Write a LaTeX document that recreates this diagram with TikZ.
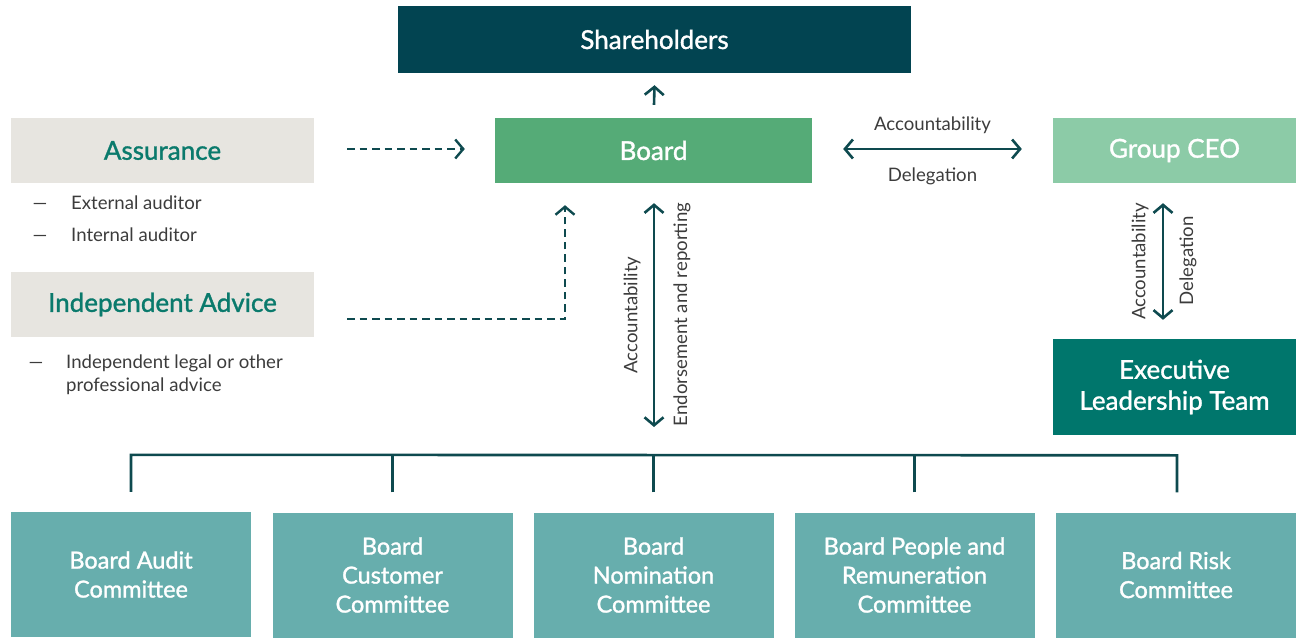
\documentclass[tikz,border=0pt]{standalone}
\usepackage{fontspec}
\setmainfont{Lato}
\newfontfamily\medfont{Lato}[FakeBold=1.3]
\usetikzlibrary{arrows.meta,calc}
\definecolor{shc}{HTML}{024451}
\definecolor{brd}{HTML}{55AB77}
\definecolor{ceoc}{HTML}{8CCBA7}
\definecolor{eltc}{HTML}{00766C}
\definecolor{comc}{HTML}{67AEAD}
\definecolor{gryc}{HTML}{E7E5E0}
\definecolor{tealtxt}{HTML}{0A7A6C}
\definecolor{arrc}{HTML}{0E4A4F}
\definecolor{lblc}{HTML}{3C3C3C}
\newcommand{\bxfont}{\medfont\fontsize{26}{31}\selectfont}
\newcommand{\cmfont}{\medfont\fontsize{23.5}{29}\selectfont}
\newcommand{\lbfont}{\fontsize{18.6}{22}\selectfont}
\newcommand{\blfont}{\fontsize{18.6}{23.5}\selectfont}
\tikzset{
  bigbox/.style={rectangle, inner sep=0pt, align=center, text=white, font=\bxfont},
  grybox/.style={rectangle, inner sep=0pt, align=center, fill=gryc, text=tealtxt, font=\bxfont, minimum width=303pt, minimum height=65pt},
  combox/.style={rectangle, inner sep=0pt, align=center, fill=comc, text=white, font=\cmfont, minimum width=240pt, minimum height=125pt},
  arr/.style={draw=arrc, line width=2.6pt, {Straight Barb[length=8pt,width=19pt]}-{Straight Barb[length=8pt,width=19pt]}},
  uparr/.style={draw=arrc, line width=2.6pt, -{Straight Barb[length=8pt,width=19pt]}},
  dasharr/.style={draw=arrc, line width=2.4pt, dash pattern=on 7.5pt off 5pt, -{Straight Barb[length=8pt,width=19pt]}},
  bus/.style={draw=arrc, line width=2.6pt},
  lbl/.style={text=lblc, font=\lbfont, inner sep=0pt},
  bul/.style={text=lblc, font=\blfont, inner sep=0pt, align=left},
}
\begin{document}
\begin{tikzpicture}[x=1pt,y=-1pt]
\useasboundingbox (0,0) rectangle (1305,644);
% main boxes
\node[bigbox, fill=shc, minimum width=513pt, minimum height=67pt] (sh) at (654.5,39.5) {Shareholders};
\node[bigbox, fill=brd, minimum width=317pt, minimum height=65pt] (board) at (653.5,150.5) {Board};
\node[bigbox, fill=ceoc, minimum width=243pt, minimum height=65pt] (ceo) at (1174.5,150.5) {Group CEO};
\node[bigbox, fill=eltc, minimum width=243pt, minimum height=96pt] (elt) at (1174.5,387) {Executive\\Leadership Team};
\node[grybox] (ass) at (162.5,150.5) {Assurance};
\node[grybox] (ind) at (162.5,304.5) {Independent Advice};
% bullets
\node[bul, anchor=base] (d1) at (40,210) {—};
\node[bul, anchor=base west] (t1) at (71,210) {External auditor};
\node[bul, anchor=base] (d2) at (40,242) {—};
\node[bul, anchor=base west] (t2) at (71,242) {Internal auditor};
\node[bul, anchor=base] (d3) at (36,368) {—};
\node[bul, anchor=base west] (t3) at (66,368) {Independent legal or other};
\node[bul, anchor=base west] (t4) at (66,391) {professional advice};
% committees
\node[combox] (c1) at (131,574.5) {Board Audit\\Committee};
\node[combox] (c2) at (392.5,575) {Board\\Customer\\Committee};
\node[combox] (c3) at (653.5,575) {Board\\Nomination\\Committee};
\node[combox] (c4) at (914.5,575) {Board People and\\Remuneration\\Committee};
\node[combox] (c5) at (1176,575) {Board Risk\\Committee};
% bus
\draw[bus] ([yshift=20pt]c1.north) -- ([yshift=57pt]c1.north) -- ([yshift=57pt,xshift=1pt]c5.north) -- ([yshift=20pt,xshift=1pt]c5.north);
\draw[bus] ([yshift=20pt]c2.north) -- ([yshift=57pt]c2.north);
\draw[bus] ([yshift=20pt]c3.north) -- ([yshift=57pt]c3.north);
\draw[bus] ([yshift=20pt]c4.north) -- ([yshift=57pt]c4.north);
% arrows
\draw[uparr] ([yshift=13pt,xshift=0.5pt]board.north) -- ([yshift=-12pt]sh.south);
\draw[arr] ([xshift=31pt,yshift=1.5pt]board.east) -- ([xshift=-31pt,yshift=1.5pt]ceo.west);
\node[lbl] (la1) at (932.5,125) {Accountability};
\node[lbl] (ld1) at (932.5,176) {Delegation};
\coordinate (bend) at (654,427);
\draw[arr] ([yshift=-20pt,xshift=0.5pt]board.south) -- (bend);
\node[lbl, rotate=90] (la2) at (632,315) {Accountability};
\node[lbl, rotate=90] (le2) at (682,314.5) {Endorsement and reporting};
\draw[arr] ([xshift=-11.5pt,yshift=-20pt]ceo.south) -- ([xshift=-11.5pt,yshift=19pt]elt.north);
\node[lbl, rotate=90] (la3) at (1140,261.5) {Accountability};
\node[lbl, rotate=90] (ld3) at (1188,261) {Delegation};
\draw[dasharr] ([xshift=33pt,yshift=1.5pt]ass.east) -- ([xshift=-30pt,yshift=1.5pt]board.west);
\draw[dasharr] ([xshift=33pt,yshift=-14.5pt]ind.east) -| ([xshift=-88.5pt,yshift=-22pt]board.south);
\end{tikzpicture}
\end{document}
